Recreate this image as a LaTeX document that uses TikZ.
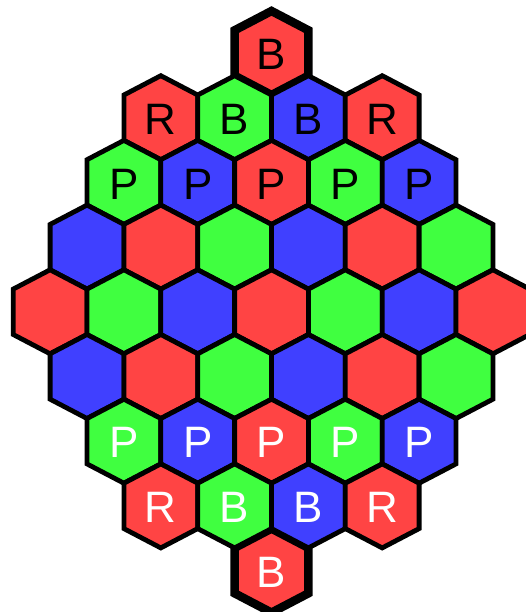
\documentclass[tikz,border=0pt]{standalone}
\usepackage{fontspec}
\setmainfont{Liberation Sans}
\definecolor{hr}{RGB}{255,68,68}
\definecolor{hg}{RGB}{64,255,64}
\definecolor{hb}{RGB}{64,64,255}
\tikzset{
  pics/hexagon/.style={code={
    \path[pic actions] (0,42) -- (36.9,22.7) -- (36.9,-22.7) -- (0,-42)
      -- (-36.9,-22.7) -- (-36.9,22.7) -- cycle;}},
  hexcell/.style={draw=black, line width=4.8pt, line join=miter},
  endcell/.style={draw=black, line width=8.5pt, line join=miter},
  lbl/.style={font=\fontsize{44}{44}\selectfont, inner sep=0pt},
}
% name, half-step offset, row, fill, text, text colour, style
\newcommand\hexcellat[7]{%
  \pic[#7, fill=#4] at ({271.5+#2*36.9},{-53-#3*64.7}) {hexagon};
  \node[lbl, text=#6] (#1) at ({271.5+#2*36.9},{-54.5-#3*64.7}) {#5};
}
\begin{document}
\begin{tikzpicture}[x=1pt,y=1pt]
\useasboundingbox (0,0) rectangle (526,-612);
\clip (0,0) rectangle (526,-612);
% end cells with heavy outline
\hexcellat{c00}{0}{0}{hr}{B}{black}{endcell}
\hexcellat{c80}{0}{8}{hr}{B}{white}{endcell}
% row 1
\hexcellat{c10}{-3}{1}{hr}{R}{black}{hexcell}
\hexcellat{c11}{-1}{1}{hg}{B}{black}{hexcell}
\hexcellat{c12}{1}{1}{hb}{B}{black}{hexcell}
\hexcellat{c13}{3}{1}{hr}{R}{black}{hexcell}
% row 2
\hexcellat{c20}{-4}{2}{hg}{P}{black}{hexcell}
\hexcellat{c21}{-2}{2}{hb}{P}{black}{hexcell}
\hexcellat{c22}{0}{2}{hr}{P}{black}{hexcell}
\hexcellat{c23}{2}{2}{hg}{P}{black}{hexcell}
\hexcellat{c24}{4}{2}{hb}{P}{black}{hexcell}
% row 3
\hexcellat{c30}{-5}{3}{hb}{}{black}{hexcell}
\hexcellat{c31}{-3}{3}{hr}{}{black}{hexcell}
\hexcellat{c32}{-1}{3}{hg}{}{black}{hexcell}
\hexcellat{c33}{1}{3}{hb}{}{black}{hexcell}
\hexcellat{c34}{3}{3}{hr}{}{black}{hexcell}
\hexcellat{c35}{5}{3}{hg}{}{black}{hexcell}
% row 4
\hexcellat{c40}{-6}{4}{hr}{}{black}{hexcell}
\hexcellat{c41}{-4}{4}{hg}{}{black}{hexcell}
\hexcellat{c42}{-2}{4}{hb}{}{black}{hexcell}
\hexcellat{c43}{0}{4}{hr}{}{black}{hexcell}
\hexcellat{c44}{2}{4}{hg}{}{black}{hexcell}
\hexcellat{c45}{4}{4}{hb}{}{black}{hexcell}
\hexcellat{c46}{6}{4}{hr}{}{black}{hexcell}
% row 5
\hexcellat{c50}{-5}{5}{hb}{}{black}{hexcell}
\hexcellat{c51}{-3}{5}{hr}{}{black}{hexcell}
\hexcellat{c52}{-1}{5}{hg}{}{black}{hexcell}
\hexcellat{c53}{1}{5}{hb}{}{black}{hexcell}
\hexcellat{c54}{3}{5}{hr}{}{black}{hexcell}
\hexcellat{c55}{5}{5}{hg}{}{black}{hexcell}
% row 6
\hexcellat{c60}{-4}{6}{hg}{P}{white}{hexcell}
\hexcellat{c61}{-2}{6}{hb}{P}{white}{hexcell}
\hexcellat{c62}{0}{6}{hr}{P}{white}{hexcell}
\hexcellat{c63}{2}{6}{hg}{P}{white}{hexcell}
\hexcellat{c64}{4}{6}{hb}{P}{white}{hexcell}
% row 7
\hexcellat{c70}{-3}{7}{hr}{R}{white}{hexcell}
\hexcellat{c71}{-1}{7}{hg}{B}{white}{hexcell}
\hexcellat{c72}{1}{7}{hb}{B}{white}{hexcell}
\hexcellat{c73}{3}{7}{hr}{R}{white}{hexcell}
\end{tikzpicture}
\end{document}
